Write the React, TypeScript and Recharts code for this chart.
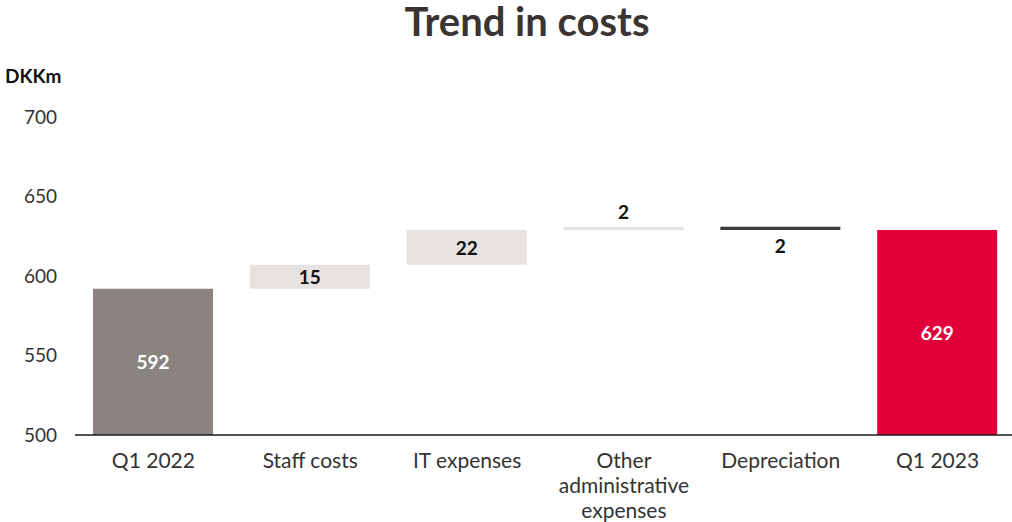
import { Bar, BarChart, Cell, LabelList, XAxis, YAxis } from "recharts"

const categories = ["Q1 2022", "Staff costs", "IT expenses", "Other administrative expenses", "Depreciation", "Q1 2023"]
const changes = [592, 15, 22, 2, -2, 629]
const kinds = ["total", "up", "up", "up", "down", "total"]
const yTicks = [500, 550, 600, 650, 700]

const colors: Record<string, string> = {
  start: "#8a8380",
  up: "#e6e2df",
  down: "#3a3a3a",
  end: "#e2003b",
}

// running total gives the invisible base of each floating bar
let running = 0
const data = categories.map((name, i) => {
  const kind = kinds[i]
  let base = 0
  if (kind === "total") {
    running = changes[i]
  } else if (changes[i] >= 0) {
    base = running
    running += changes[i]
  } else {
    running += changes[i]
    base = running
  }
  return { name, base, delta: Math.abs(changes[i]), value: Math.abs(changes[i]), kind }
})

const font = "Lato, 'Open Sans', sans-serif"

function barColor(i: number) {
  if (i === 0) return colors.start
  if (i === categories.length - 1) return colors.end
  return kinds[i] === "down" ? colors.down : colors.up
}

function CategoryTick(props: any) {
  const { x, y, payload } = props
  const words: string[] = payload.value === "Other administrative expenses" ? ["Other", "administrative", "expenses"] : [payload.value]
  return (
    <g transform={`translate(${x},${y})`}>
      {words.map((w, i) => (
        <text key={i} x={0} y={20 + i * 25} textAnchor="middle" dominantBaseline="middle" fill="#333" fontSize={21} fontFamily={font}>
          {w}
        </text>
      ))}
    </g>
  )
}

function ValueLabel(props: any) {
  const { x, y, width, height, index } = props
  const kind = kinds[index]
  const cx = x + width / 2
  let cy = y + height / 2
  let fill = "#111"
  if (kind === "total") fill = "#fff"
  if (kind === "up" && height < 10) cy = y - 15
  if (kind === "down" && height < 10) cy = y + height + 16
  return (
    <text x={cx} y={cy} textAnchor="middle" dominantBaseline="central" fill={fill} fontSize={19} fontWeight={700} fontFamily={font}>
      {data[index].value}
    </text>
  )
}

export default function App() {
  return (
    <div style={{ position: "absolute", left: 0, top: 0, width: 1012, height: 522, overflow: "hidden", background: "#fff" }}>
      <div style={{ position: "absolute", left: 327, width: 400, top: 1, textAlign: "center", fontFamily: font, fontWeight: 700, fontSize: 40, color: "#3a3532", lineHeight: "40px" }}>
        Trend in costs
      </div>
      <div style={{ position: "absolute", left: 5, top: 64, fontFamily: font, fontWeight: 700, fontSize: 19, color: "#111" }}>DKKm</div>
      <BarChart width={1016} height={522} data={data} margin={{ top: 117, right: 0, bottom: 0, left: 0 }} barSize={120}>
        <XAxis
          dataKey="name"
          interval={0}
          height={87}
          tickLine={false}
          axisLine={{ stroke: "#1a1a1a", strokeWidth: 1.5 }}
          tick={<CategoryTick />}
        />
        <YAxis
          width={75}
          domain={[500, 700]}
          ticks={yTicks}
          allowDataOverflow
          tickLine={false}
          axisLine={false}
          tickMargin={12}
          tick={{ fill: "#333", fontSize: 19, fontFamily: font }}
        />
        <Bar dataKey="base" stackId="w" fill="transparent" isAnimationActive={false} />
        <Bar dataKey="delta" stackId="w" isAnimationActive={false}>
          {data.map((d, i) => (
            <Cell key={d.name} fill={barColor(i)} />
          ))}
          <LabelList dataKey="value" content={<ValueLabel />} />
        </Bar>
      </BarChart>
    </div>
  )
}
